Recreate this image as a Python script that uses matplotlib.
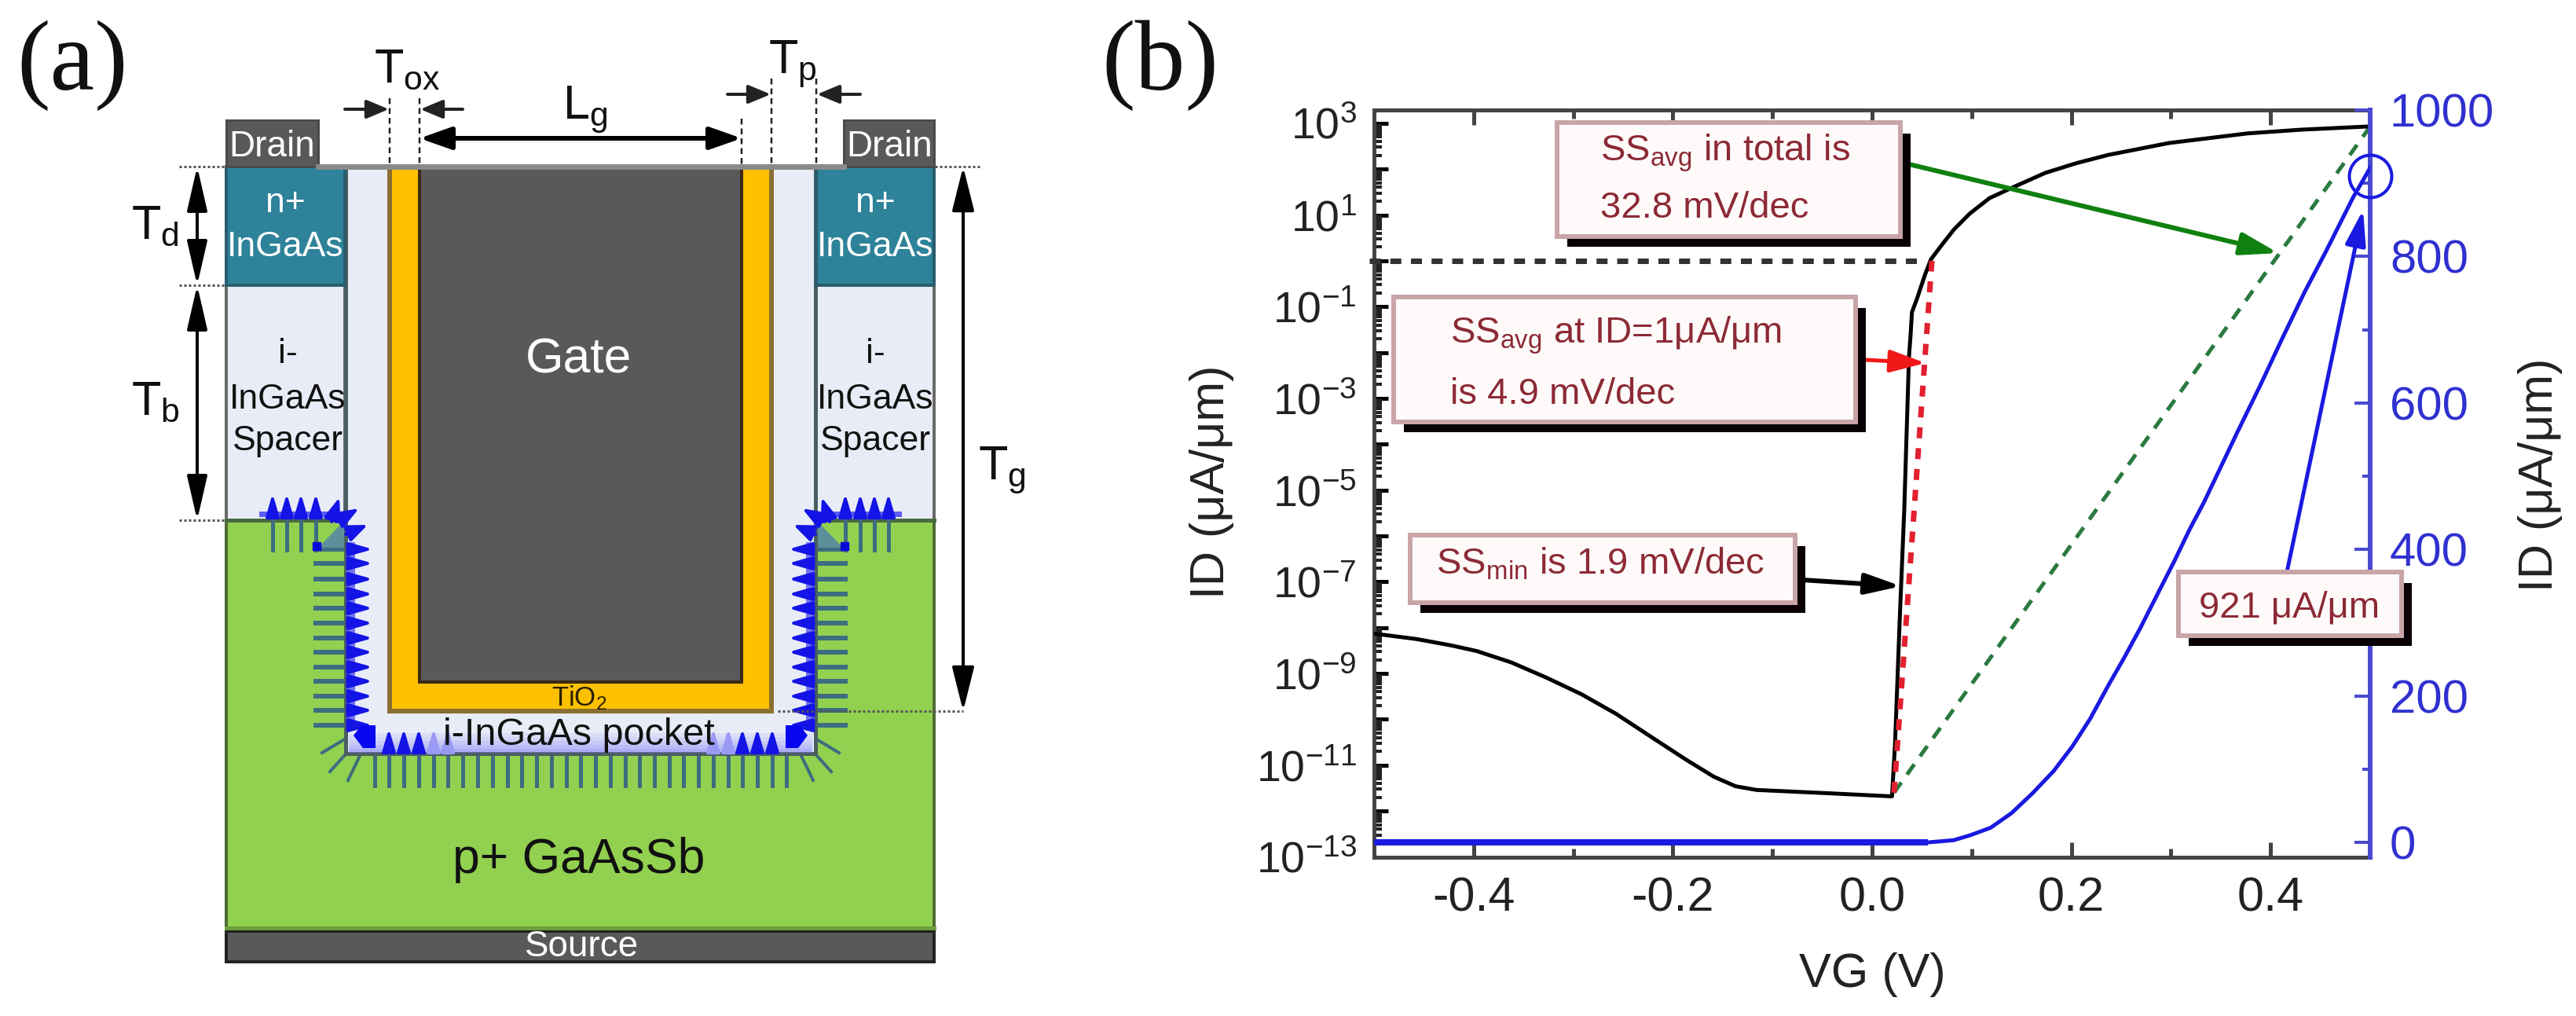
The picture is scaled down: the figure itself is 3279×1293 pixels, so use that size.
import matplotlib
matplotlib.use('Agg')
import matplotlib.pyplot as plt
from matplotlib.patches import Rectangle, Polygon

plt.rcParams['font.family'] = ['Liberation Sans', 'DejaVu Sans']
plt.rcParams['mathtext.default'] = 'regular'
plt.rcParams['axes.unicode_minus'] = False

W, H = 3279, 1293
PT = 0.72  # one pixel in points at dpi 100

# ---- panel (b) data
vg_off = [-0.5, -0.457, -0.422, -0.397, -0.362, -0.327, -0.292, -0.257, -0.222, -0.186, -0.159, -0.137, -0.116, -0.046, 0.02]
log_id_off = [-8.13, -8.25, -8.39, -8.51, -8.76, -9.09, -9.45, -9.88, -10.38, -10.89, -11.25, -11.46, -11.54, -11.61, -11.68]
vg_on = [0.023, 0.027, 0.028, 0.0323, 0.037, 0.0386, 0.04, 0.045, 0.053, 0.059, 0.069, 0.082, 0.098, 0.118, 0.142,
         0.174, 0.205, 0.237, 0.298, 0.377, 0.43, 0.497, 0.5]
log_id_on = [-10.55, -8.25, -7.68, -5.42, -2.1, -1.63, -1.12, -0.83, -0.31, 0.03, 0.32, 0.68, 1.03, 1.37, 1.61,
             1.92, 2.13, 2.31, 2.57, 2.78, 2.86, 2.93, 2.935]
vg_lin = [-0.5, 0.056, 0.082, 0.099, 0.119, 0.14, 0.161, 0.182, 0.201, 0.219, 0.237, 0.253, 0.269, 0.288, 0.303, 0.319,
          0.333, 0.367, 0.39, 0.411, 0.434, 0.456, 0.483, 0.5]
id_lin = [0, 0, 3, 10, 20, 40, 67, 97, 131, 169, 214, 252, 292, 343, 383, 428,
          464, 561, 625, 686, 751, 808, 881, 921]
base_x = [-0.5, 0.056]
base_id = [0, 0]
ss_total_x = [0.022, 0.5]
ss_total_log = [-11.6, 2.93]
ss_1ua_x = [0.022, 0.06]
ss_1ua_log = [-11.6, 0.0]
ref_x = [-0.505, 0.052]
ref_log = [0.0, 0.0]
marker_x = [0.5]
marker_id = [910]

x_ticks = [-0.4, -0.2, 0.0, 0.2, 0.4]
x_labels = ['-0.4', '-0.2', '0.0', '0.2', '0.4']
x_minor = [-0.3, -0.1, 0.1, 0.3]
left_exp = [3, 1, -1, -3, -5, -7, -9, -11, -13]
left_dec = [2, 0, -2, -4, -6, -8, -10, -12]
right_ticks = [0, 200, 400, 600, 800, 1000]
right_minor = [100, 300, 500, 700, 900]

# ---- panel (a) geometry (picture pixels)
dev_x = [288, 1189]
drain_left = [288, 405]
drain_right = [1074, 1189]
drain_y = [153, 212]
nplus_left = [288, 439]
nplus_right = [1039, 1189]
nplus_y = [212, 363]
spacer_y = [363, 662]
pocket_x = [440, 1038]
pocket_y = [212, 959]
oxide_x = [496, 982]
oxide_y = [212, 905]
gate_x = [534, 944]
gate_y = [212, 868]
green_y = [662, 1185]
source_y = [1185, 1224]

side_y = [699, 717, 737, 756, 774, 793, 812, 830, 849, 867, 886, 904, 923]
bottom_x = [477, 495, 514, 533, 552, 570, 589, 608, 627, 646, 664, 683, 702, 721, 739, 758, 777, 796, 814, 833, 852,
            870, 889, 908, 927, 945, 964, 983, 1001]
head_x = [495, 514, 533, 945, 964, 983]
faded_head_x = [552, 570, 908, 927]
top_left_x = [347, 365, 383, 402]
top_right_x = [1076, 1095, 1113, 1131]
glow_alpha = [0.12, 0.2, 0.3, 0.42, 0.55]
glow_y = [933, 938, 943, 948, 953]

c_dark = '#595959'
c_teal = '#2e8299'
c_pale = '#e8ecf7'
c_yellow = '#ffc000'
c_green = '#92d050'
c_blue = '#1414e6'
c_field = '#3d6d80'
c_red_text = '#8c2a35'
c_axis_blue = '#4a4ad0'
c_tick_blue = '#3030d0'
c_curve_blue = '#1a1ae0'


def draw_arrow(ov, p0, p1, color='black', lw=4, style='-|>', hl=24, hw=10, z=6, alpha=None):
    ov.annotate('', xy=p1, xytext=p0, zorder=z,
                arrowprops=dict(arrowstyle='%s,head_length=%g,head_width=%g' % (style, hl * PT, hw * PT),
                                mutation_scale=1, color=color, lw=lw * PT, alpha=alpha,
                                shrinkA=0, shrinkB=0))


def rect(ov, x0, x1, y0, y1, fc, ec='none', lw=0, z=1):
    ov.add_patch(Rectangle((x0, y0), x1 - x0, y1 - y0, facecolor=fc, edgecolor=ec, lw=lw * PT, zorder=z))


def plot_field(ov):
    # blue band just inside the pocket wall
    rect(ov, 441, 452, 690, 930, '#7474f0', 'none', 0, 2.7)
    rect(ov, 1026, 1037, 690, 930, '#7474f0', 'none', 0, 2.7)
    for y in side_y:
        ov.plot([402, 445], [y, y], color=c_field, lw=6 * PT, zorder=2.4)
        ov.plot([1033, 1076], [y, y], color=c_field, lw=6 * PT, zorder=2.4)
        draw_arrow(ov, (442, y), (475, y), c_blue, 4, hl=25, hw=7, z=3)
        draw_arrow(ov, (1036, y), (1003, y), c_blue, 4, hl=25, hw=7, z=3)
    for x in bottom_x:
        ov.plot([x, x], [958, 1000], color=c_field, lw=5 * PT, zorder=2.4)
    for x in head_x:
        draw_arrow(ov, (x, 958), (x, 927), c_blue, 4, hl=24, hw=7, z=3)
    for x in faded_head_x:
        draw_arrow(ov, (x, 958), (x, 927), '#9a9af5', 4, hl=24, hw=7, z=3)

    # the corners are mirrored about the gate centre
    for sx in (1, -1):
        def mx(x):
            return x if sx == 1 else 1478 - x
        ov.add_patch(Polygon([(mx(450), 936), (mx(460), 923), (mx(478), 923), (mx(478), 952), (mx(462), 952)],
                             facecolor='#0808f0', edgecolor='none', zorder=3))
        ov.plot([mx(440), mx(410)], [940, 958], color=c_field, lw=4 * PT, zorder=2.4)
        ov.plot([mx(438), mx(420)], [962, 982], color=c_field, lw=4 * PT, zorder=2.4)
        ov.plot([mx(458), mx(443)], [962, 993], color=c_field, lw=4 * PT, zorder=2.4)
        ov.add_patch(Polygon([(mx(405), 697), (mx(438), 663), (mx(438), 697)],
                             facecolor='#5c8f9a', edgecolor='none', zorder=2.4))
        ov.plot([mx(403)], [695], 's', color='#0a0ad8', ms=10 * PT, zorder=3)
        draw_arrow(ov, (mx(422), 664), (mx(432), 633), c_blue, 4, hl=24, hw=9, z=3)
        draw_arrow(ov, (mx(428), 664), (mx(457), 647), c_blue, 4, hl=24, hw=9, z=3)
        draw_arrow(ov, (mx(440), 680), (mx(468), 668), c_blue, 4, hl=22, hw=9, z=3)
    for x in top_left_x + top_right_x:
        ov.plot([x, x], [660, 700], color=c_field, lw=5 * PT, zorder=2.4)
        draw_arrow(ov, (x, 658), (x, 628), c_blue, 4, hl=24, hw=7, z=3)
    for xs in ((330, 430), (1048, 1148)):
        rect(ov, xs[0], xs[1], 651, 658, '#5c5cf0', 'none', 0, 2.8)


def plot_device(ov):
    edge = '#6a6a6a'
    rect(ov, dev_x[0], dev_x[1], green_y[0], green_y[1], c_green, '#4f6a35', 4, 1)
    ov.plot([dev_x[0], dev_x[1]], [green_y[0], green_y[0]], color='#4a6a40', lw=5 * PT, zorder=2.2)
    rect(ov, dev_x[0], dev_x[1], source_y[0], source_y[1], c_dark, '#222222', 4, 2)
    ov.plot(dev_x, [source_y[0] - 4, source_y[0] - 4], color='#6f9f3a', lw=5 * PT, zorder=2)
    for xs in (nplus_left, nplus_right):
        rect(ov, xs[0], xs[1], spacer_y[0], spacer_y[1], c_pale, edge, 4, 2)
        rect(ov, xs[0], xs[1], nplus_y[0], nplus_y[1], c_teal, '#2a5d6e', 4, 3)
    for xs in (drain_left, drain_right):
        rect(ov, xs[0], xs[1], drain_y[0], drain_y[1], c_dark, '#4a4a4a', 3, 3)
    rect(ov, pocket_x[0], pocket_x[1], pocket_y[0], pocket_y[1], c_pale, '#4a5f60', 5, 2.5)
    for a, y in zip(glow_alpha, glow_y):
        rect(ov, pocket_x[0] + 4, pocket_x[1] - 4, y, y + 5, '#7a7af5', 'none', 0, 2.6)
        ov.patches[-1].set_alpha(a)
    rect(ov, oxide_x[0], oxide_x[1], oxide_y[0], oxide_y[1], c_yellow, '#8a7030', 6, 3)
    rect(ov, gate_x[0], gate_x[1], gate_y[0], gate_y[1], c_dark, '#3a2a14', 4, 4)
    ov.plot([drain_left[1], drain_right[0]], [drain_y[1], drain_y[1]], color='#8a8a8a', lw=7 * PT, zorder=5)

    plot_field(ov)

    # dimension lines
    dots = dict(color='#555555', lw=3 * PT, ls=(0, (1, 1)), zorder=5)
    ov.plot([228, 288], [212, 212], **dots)
    ov.plot([1190, 1250], [212, 212], **dots)
    ov.plot([228, 288], [363, 363], **dots)
    ov.plot([228, 288], [662, 662], **dots)
    ov.plot([990, 1226], [905, 905], **dots)
    dash = dict(color='#222222', lw=2.5 * PT, ls=(0, (3, 2)), zorder=5)
    for x, y0 in ((496, 125), (534, 125), (944, 151), (982, 100), (1039, 100)):
        ov.plot([x, x], [y0, 212], **dash)
    draw_arrow(ov, (251, 212), (251, 363), 'black', 4, '<|-|>', 48, 11)
    draw_arrow(ov, (251, 363), (251, 662), 'black', 4, '<|-|>', 48, 11)
    draw_arrow(ov, (1226, 212), (1226, 905), 'black', 4, '<|-|>', 48, 12)
    draw_arrow(ov, (534, 176), (944, 176), 'black', 6, '<|-|>', 34, 12)
    draw_arrow(ov, (439, 139), (495, 139), '#222222', 4, hl=24, hw=10)
    draw_arrow(ov, (589, 139), (535, 139), '#222222', 4, hl=24, hw=10)
    draw_arrow(ov, (926, 120), (981, 120), '#222222', 4, hl=24, hw=10)
    draw_arrow(ov, (1095, 120), (1040, 120), '#222222', 4, hl=24, hw=10)

    # text
    for x, y, s, sub in ((476, 104, 'T', 'ox'), (716, 151, 'L', 'g'), (978, 93, 'T', 'p'),
                         (167, 303, 'T', 'd'), (167, 527, 'T', 'b'), (1245, 610, 'T', 'g')):
        ov.text(x, y, '%s$_{%s}$' % (s, sub), fontsize=44, va='baseline', ha='left', zorder=8, color='#111111')
    for x in (346, 1132):
        ov.text(x, 187, 'Drain', color='white', fontsize=33, ha='center', va='center', zorder=8)
    for x, x2 in ((363, 366), (1114, 1114)):
        ov.text(x, 259, 'n+', color='white', fontsize=32, ha='center', va='center', zorder=8)
        ov.text(x, 315, 'InGaAs', color='white', fontsize=32, ha='center', va='center', zorder=8)
        ov.text(x2, 450, 'i-', color='#111111', fontsize=32, ha='center', va='center', zorder=8)
        ov.text(x2, 508, 'InGaAs', color='#111111', fontsize=32, ha='center', va='center', zorder=8)
        ov.text(x2, 562, 'Spacer', color='#111111', fontsize=32, ha='center', va='center', zorder=8)
    ov.text(737, 458, 'Gate', color='white', fontsize=45, ha='center', va='center', zorder=8)
    ov.text(737, 888, 'TiO$_{2}$', color='#2a2000', fontsize=25, ha='center', va='center', zorder=8)
    ov.text(737, 935, 'i-InGaAs pocket', color='#111111', fontsize=35, ha='center', va='center', zorder=8)
    ov.text(737, 1095, 'p+ GaAsSb', color='#111111', fontsize=45, ha='center', va='center', zorder=8)
    ov.text(741, 1205, 'Source', color='white', fontsize=33, ha='center', va='center', zorder=8)


def callout(ov, x0, x1, y0, y1, lines):
    rect(ov, x0 + 13, x1 + 13, y0 + 14, y1 + 13, '#080004', 'none', 0, 7)
    rect(ov, x0, x1, y0, y1, '#fffafa', '#c9a5a8', 6, 7.1)
    for x, y, s in lines:
        ov.text(x, y, s, color=c_red_text, fontsize=34, ha='left', va='center', zorder=8)


def plot_callouts(ov):
    draw_arrow(ov, (2430, 209), (2900, 322), '#108010', 6, hl=40, hw=12)
    draw_arrow(ov, (2375, 458), (2451, 462), '#f01818', 5, hl=38, hw=12)
    draw_arrow(ov, (2294, 738), (2420, 746), 'black', 6, hl=38, hw=11)
    draw_arrow(ov, (2911, 728), (3008, 267), c_curve_blue, 5, hl=38, hw=11)
    callout(ov, 1982, 2419, 156, 301, [(2037, 195, r'SS$_{avg}$ in total is'), (2037, 265, '32.8 mV/dec')])
    callout(ov, 1774, 2362, 378, 537, [(1846, 427, r'SS$_{avg}$ at ID=1μA/μm'), (1846, 502, 'is 4.9 mV/dec')])
    callout(ov, 1795, 2285, 681, 767, [(1828, 718, r'SS$_{min}$ is 1.9 mV/dec')])
    callout(ov, 2773, 3057, 728, 809, [(2799, 773, '921 μA/μm')])


def plot_transfer(fig):
    ax = fig.add_axes([1749 / W, 1 - 1090.5 / H, (3017 - 1749) / W, (1090.5 - 140) / H])
    ax.set_yscale('log')
    ax.plot(vg_off + vg_on, [10.0 ** v for v in log_id_off + log_id_on], color='black', lw=5 * PT, zorder=4)
    ax.plot(ref_x, [10.0 ** v for v in ref_log], color='#333333', lw=7 * PT, ls=(0, (2, 1.75)), clip_on=False, zorder=3)
    ax.plot(ss_1ua_x, [10.0 ** v for v in ss_1ua_log], color='#e2202f', lw=7 * PT, ls=(0, (2, 1.8)), zorder=5)
    ax.plot(ss_total_x, [10.0 ** v for v in ss_total_log], color='#2a7a3f', lw=5 * PT, ls=(0, (3.2, 2.5)), zorder=3)
    ax.set_xlim(-0.5, 0.5)
    ax.set_ylim(1e-13, 10.0 ** 3.29)

    ax.set_xticks(x_ticks)
    ax.set_xticklabels(x_labels, fontsize=44, color='#222222')
    ax.set_xticks(x_minor, minor=True)
    ax.set_yticks([10.0 ** e for e in left_exp + left_dec])
    ax.set_yticklabels(['$10^{%d}$' % e for e in left_exp] + [''] * len(left_dec), fontsize=40, color='#222222')
    ax.yaxis.set_minor_locator(matplotlib.ticker.LogLocator(base=10, subs=[2, 3, 4, 5, 6, 7, 8, 9], numticks=40))
    ax.yaxis.set_minor_formatter(matplotlib.ticker.NullFormatter())
    ax.tick_params(axis='x', which='major', direction='in', length=19 * PT, width=5 * PT, top=True, pad=25 * PT, color='#444444')
    ax.tick_params(axis='x', which='minor', direction='in', length=11 * PT, width=5 * PT, top=True, color='#444444')
    ax.tick_params(axis='y', which='major', direction='in', length=18 * PT, width=5 * PT, pad=22 * PT, color='black')
    ax.tick_params(axis='y', which='minor', direction='in', length=10 * PT, width=4 * PT, color='#222222')
    for side in ('left', 'top', 'bottom'):
        ax.spines[side].set_linewidth(5 * PT)
        ax.spines[side].set_color('#444444')
    ax.spines['right'].set_visible(False)

    ax.set_xlabel('VG (V)', fontsize=44, color='#222222')
    ax.xaxis.set_label_coords(0.5, -0.158)
    ax.xaxis.label.set_verticalalignment('center')
    ax.set_ylabel('ID (μA/μm)', fontsize=44, color='#222222')
    ax.yaxis.set_label_coords(-0.163, 0.502)
    ax.yaxis.label.set_verticalalignment('center')

    ax2 = ax.twinx()
    ax2.plot(vg_lin, id_lin, color=c_curve_blue, lw=5 * PT, zorder=4)
    ax2.plot(base_x, base_id, color=c_curve_blue, lw=8 * PT, solid_capstyle='butt', zorder=4)
    ax2.plot(marker_x, marker_id, 'o', mfc='none', mec=c_curve_blue, mew=4 * PT, ms=54 * PT, clip_on=False, zorder=6)
    ax2.set_ylim(-19.8, 1000)
    ax2.set_yticks(right_ticks)
    ax2.set_yticklabels([str(v) for v in right_ticks], fontsize=43, color=c_tick_blue)
    ax2.set_yticks(right_minor, minor=True)
    ax2.tick_params(axis='y', which='major', direction='in', length=20 * PT, width=4 * PT, pad=25 * PT, color=c_axis_blue)
    ax2.tick_params(axis='y', which='minor', direction='in', length=10 * PT, width=4 * PT, color=c_axis_blue)
    for side in ('left', 'top', 'bottom'):
        ax2.spines[side].set_visible(False)
    ax2.spines['right'].set_linewidth(6 * PT)
    ax2.spines['right'].set_color(c_axis_blue)
    ax2.set_ylabel('ID (μA/μm)', fontsize=44, color='#222222')
    ax2.yaxis.set_label_coords(1.171, 0.511)
    ax2.yaxis.label.set_verticalalignment('center')
    return ax


def run():
    fig = plt.figure(figsize=(W / 100, H / 100), dpi=100)
    plot_transfer(fig)
    ov = fig.add_axes([0, 0, 1, 1], zorder=10)
    ov.patch.set_visible(False)
    ov.axis('off')
    ov.set_xlim(0, W)
    ov.set_ylim(H, 0)
    plot_device(ov)
    plot_callouts(ov)
    ov.set_xlim(0, W)
    ov.set_ylim(H, 0)
    ov.text(21, 83, '(a)', family='Liberation Serif', fontsize=92, ha='left', va='center', zorder=9, color='#111111')
    ov.text(1402, 83, '(b)', family='Liberation Serif', fontsize=92, ha='left', va='center', zorder=9, color='#111111')
    fig.savefig('out.png', dpi=100)


run()
